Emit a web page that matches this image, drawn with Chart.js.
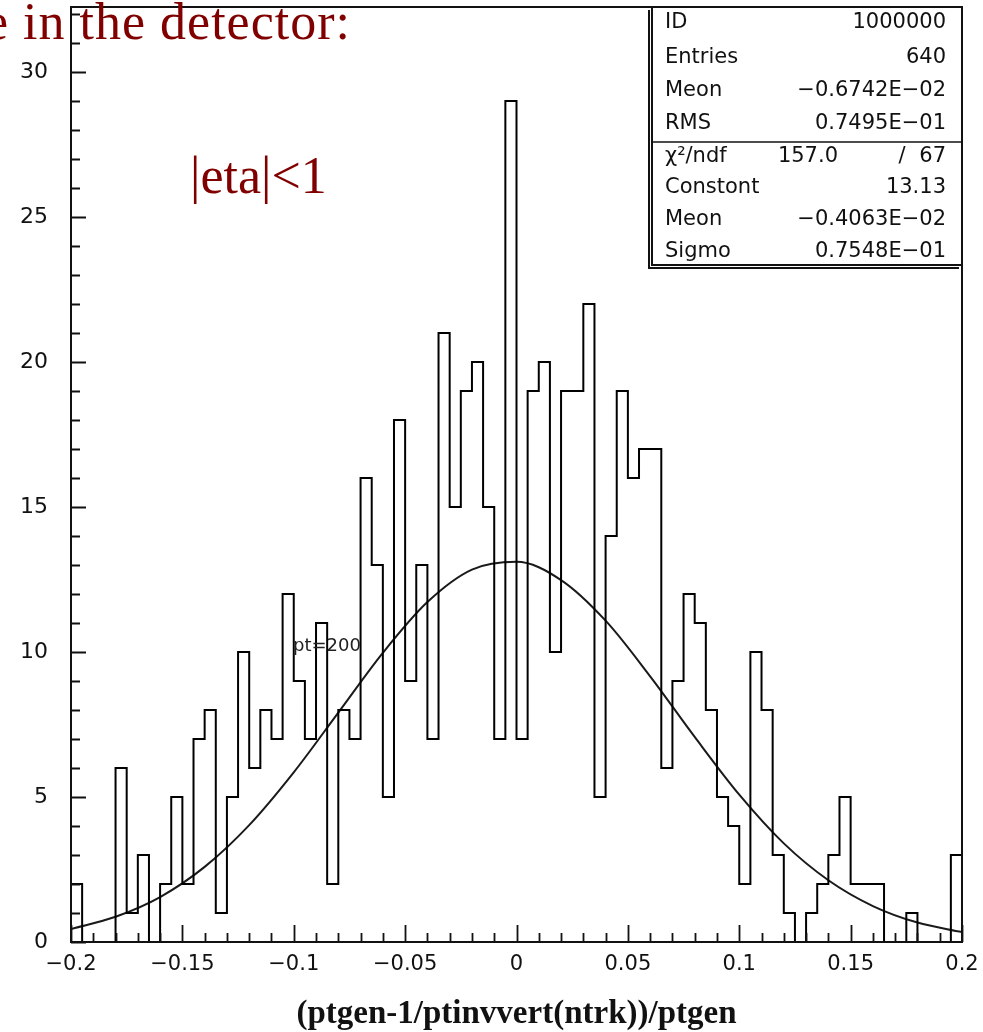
<!DOCTYPE html>
<html>
<head>
<meta charset="utf-8">
<script src="https://cdn.jsdelivr.net/npm/chart.js@4.4.1/dist/chart.umd.min.js"></script>
<style>
  body { margin: 0; background: #fff; }
  #c { display: block; }
</style>
</head>
<body>
<canvas id="c" width="983" height="1032"></canvas>
<script>
// histogram: 80 bins of 0.005 from -0.2 to 0.2
const X_MIN = -0.2, X_MAX = 0.2, BIN_W = 0.005;
const binCounts = [
  2, 0, 0, 0, 6, 1, 3, 0, 2, 5,
  2, 7, 8, 1, 5, 10, 6, 8, 7, 12,
  9, 7, 11, 2, 8, 7, 16, 13, 5, 18,
  9, 13, 7, 21, 15, 19, 20, 15, 7, 29,
  7, 19, 20, 10, 19, 19, 22, 5, 14, 19,
  16, 17, 17, 6, 9, 12, 11, 8, 5, 4,
  2, 10, 8, 3, 1, 0, 1, 2, 3, 5,
  2, 2, 2, 0, 0, 1, 0, 0, 0, 3
];

// fitted gaussian, every 0.02
const fitX = [-0.2, -0.18, -0.16, -0.14, -0.12, -0.1, -0.08, -0.06, -0.04, -0.02, 0,
              0.02, 0.04, 0.06, 0.08, 0.1, 0.12, 0.14, 0.16, 0.18, 0.2];
const fitY = [0.45, 0.87, 1.55, 2.59, 4.03, 5.85, 7.91, 9.97, 11.72, 12.84, 13.11,
              12.48, 11.08, 9.16, 7.07, 5.08, 3.40, 2.13, 1.24, 0.67, 0.34];

const xTickValues = [-0.2, -0.15, -0.1, -0.05, 0, 0.05, 0.1, 0.15, 0.2];
const xTickLabels = ['\u22120.2', '\u22120.15', '\u22120.1', '\u22120.05', '0', '0.05', '0.1', '0.15', '0.2'];
const yTickValues = [0, 5, 10, 15, 20, 25, 30];

const statLabels = ['ID', 'Entries', 'Meon', 'RMS', '\u03C7\u00B2/ndf', 'Constont', 'Meon', 'Sigmo'];
const statValues = ['1000000', '640', '\u22120.6742E\u221202', '0.7495E\u221201', '67', '13.13', '\u22120.4063E\u221202', '0.7548E\u221201'];
const chiValue = '157.0';

const histPts = [{x: X_MIN, y: 0}];
binCounts.forEach((c, i) => histPts.push({x: X_MIN + i * BIN_W, y: c}));
histPts.push({x: X_MAX, y: 0});

const fitPts = fitX.map((x, i) => ({x: x, y: fitY[i]}));

const DARKRED = '#800000';

function noPad(s) {
  s.paddingTop = 0; s.paddingBottom = 0; s.paddingLeft = 0; s.paddingRight = 0;
}

const decor = {
  id: 'decor',
  afterDraw(chart) {
    const {ctx, chartArea: a, scales: {x, y}} = chart;
    ctx.save();
    // frame
    ctx.strokeStyle = '#111';
    ctx.lineWidth = 2;
    ctx.strokeRect(a.left, a.top, a.right - a.left, a.bottom - a.top);

    // inward ticks
    ctx.lineWidth = 1.8;
    ctx.beginPath();
    for (let v = 0; v <= 32; v++) {
      const py = Math.round(y.getPixelForValue(v)) + 0.5;
      const len = v % 5 === 0 ? 15 : 9;
      ctx.moveTo(a.left, py);
      ctx.lineTo(a.left + len, py);
    }
    for (let k = 0; k <= 40; k++) {
      const px = Math.round(x.getPixelForValue(X_MIN + k * 0.01)) + 0.5;
      const len = k % 5 === 0 ? 17 : 9;
      ctx.moveTo(px, a.bottom);
      ctx.lineTo(px, a.bottom - len);
    }
    ctx.stroke();

    // stats box
    const bx = 652, by = a.top, bw = a.right - 652, bh = 258;
    ctx.fillStyle = '#fff';
    ctx.fillRect(bx, by, bw, bh);
    ctx.strokeStyle = '#111';
    ctx.lineWidth = 2;
    ctx.strokeRect(bx, by, bw, bh);
    ctx.beginPath();
    ctx.moveTo(bx - 3, by + 3);
    ctx.lineTo(bx - 3, by + bh + 3);
    ctx.lineTo(bx + bw - 3, by + bh + 3);
    ctx.stroke();
    ctx.lineWidth = 1.5;
    ctx.beginPath();
    ctx.moveTo(bx, 142);
    ctx.lineTo(bx + bw, 142);
    ctx.stroke();

    const rowsY = [23, 58, 91, 124, 157, 188, 220, 252];
    ctx.font = '21px "DejaVu Sans"';
    ctx.fillStyle = '#111';
    ctx.textBaseline = 'middle';
    statLabels.forEach((s, i) => {
      ctx.textAlign = 'left';
      ctx.fillText(s, 665, rowsY[i]);
      ctx.textAlign = 'right';
      ctx.fillText(statValues[i], 946, rowsY[i]);
    });
    ctx.textAlign = 'right';
    ctx.fillText(chiValue, 838, rowsY[4]);
    ctx.textAlign = 'center';
    ctx.fillText('/', 902, rowsY[4]);

    // annotations
    ctx.textAlign = 'left';
    ctx.font = '18px "DejaVu Sans"';
    ctx.fillStyle = '#222';
    ctx.fillText('pt=200', 293, 646);

    ctx.fillStyle = DARKRED;
    ctx.textBaseline = 'alphabetic';
    ctx.font = '52px "Liberation Serif"';
    ctx.fillText('|eta|<1', 190, 193);
    ctx.letterSpacing = '1px';
    ctx.fillText('e in the detector:', -15, 39);
    ctx.restore();
  }
};

new Chart(document.getElementById('c'), {
  type: 'line',
  data: {
    datasets: [
      {
        data: histPts,
        stepped: 'before',
        borderColor: '#000',
        borderWidth: 2,
        pointRadius: 0,
        fill: false
      },
      {
        data: fitPts,
        cubicInterpolationMode: 'monotone',
        borderColor: '#1a1a1a',
        borderWidth: 2,
        pointRadius: 0,
        fill: false
      }
    ]
  },
  options: {
    responsive: false,
    animation: false,
    devicePixelRatio: 1,
    layout: { padding: { left: 0, right: 21, top: 7, bottom: 0 } },
    plugins: { legend: { display: false }, tooltip: { enabled: false } },
    scales: {
      x: {
        type: 'linear',
        min: X_MIN,
        max: X_MAX,
        grid: { display: false, drawTicks: false },
        border: { display: false },
        afterBuildTicks: s => { s.ticks = xTickValues.map(v => ({value: v})); },
        afterFit: s => { s.height = 90; noPad(s); },
        ticks: {
          padding: 10,
          color: '#111',
          font: { family: 'DejaVu Sans', size: 21 },
          maxRotation: 0,
          autoSkip: false,
          callback: (v) => xTickLabels[xTickValues.findIndex(t => Math.abs(t - v) < 1e-9)]
        },
        title: {
          display: true,
          text: '(ptgen-1/ptinvvert(ntrk))/ptgen',
          color: '#111',
          font: { family: 'Liberation Serif', size: 33, weight: 'bold', lineHeight: 1.0 },
          padding: { top: 0, bottom: 1 }
        }
      },
      y: {
        min: 0,
        max: 32.24,
        grid: { display: false, drawTicks: false },
        border: { display: false },
        afterBuildTicks: s => { s.ticks = yTickValues.map(v => ({value: v})); },
        afterFit: s => { s.width = 71; noPad(s); },
        ticks: {
          padding: 23,
          color: '#111',
          font: { family: 'DejaVu Sans', size: 22 }
        }
      }
    }
  },
  plugins: [decor]
});
</script>
</body>
</html>
